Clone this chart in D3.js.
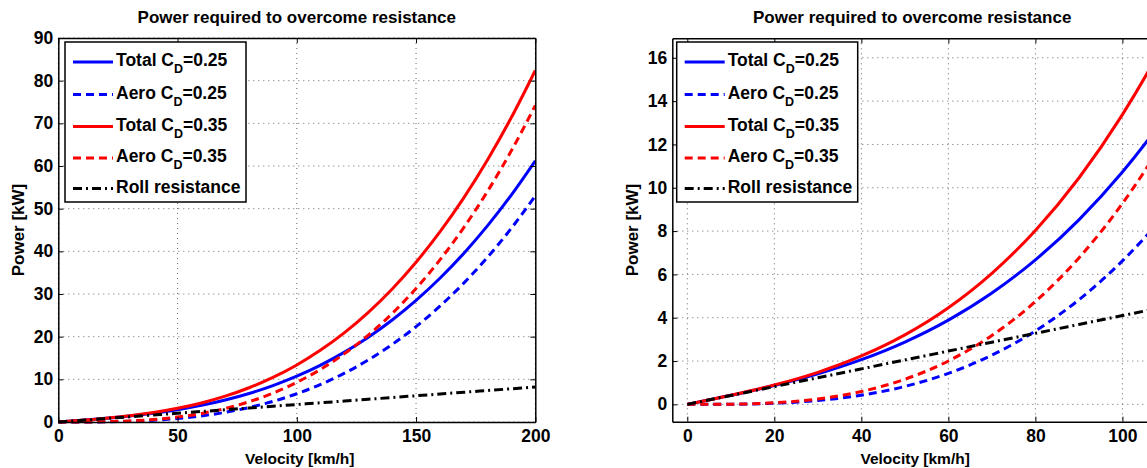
<!DOCTYPE html>
<html>
<head>
<meta charset="utf-8">
<script src="https://cdn.jsdelivr.net/npm/d3@7"></script>
<style>
  body { margin: 0; background: #fff; }
  text { font-family: "Liberation Sans", Arial, Helvetica, sans-serif; font-weight: bold; fill: #000; }
</style>
</head>
<body>
<div id="chart"></div>
<script>
// values (kW against km/h)
const velocity = [0, 10, 20, 30, 40, 50, 60, 70, 80, 90, 100, 110, 120, 130, 140, 150, 160, 170, 180, 190, 200];
const total25 = [0, 0.417, 0.873, 1.409, 2.064, 2.878, 3.891, 5.142, 6.672, 8.52, 10.725, 13.328, 16.368, 19.885, 23.919, 28.509, 33.696, 39.519, 46.017, 53.231, 61.2];
const aero25 = [0, 0.007, 0.053, 0.179, 0.424, 0.828, 1.431, 2.272, 3.392, 4.83, 6.625, 8.818, 11.448, 14.555, 18.179, 22.359, 27.136, 32.549, 38.637, 45.441, 53.0];
const total35 = [0, 0.419, 0.894, 1.48, 2.234, 3.209, 4.463, 6.051, 8.029, 10.451, 13.375, 16.855, 20.947, 25.707, 31.191, 37.453, 44.55, 52.538, 61.472, 71.407, 82.4];
const aero35 = [0, 0.009, 0.074, 0.25, 0.594, 1.159, 2.003, 3.181, 4.749, 6.761, 9.275, 12.345, 16.027, 20.377, 25.451, 31.303, 37.99, 45.568, 54.092, 63.617, 74.2];
const roll = [0, 0.41, 0.82, 1.23, 1.64, 2.05, 2.46, 2.87, 3.28, 3.69, 4.1, 4.51, 4.92, 5.33, 5.74, 6.15, 6.56, 6.97, 7.38, 7.79, 8.2];

const seriesNames = ["Total", "Aero", "Total", "Aero", "Roll resistance"];
const seriesCd = ["0.25", "0.25", "0.35", "0.35", null];
const seriesValues = [total25, aero25, total35, aero35, roll];
const seriesColors = ["#0000ff", "#0000ff", "#ff0000", "#ff0000", "#000000"];
const seriesDash = [null, "8,5", null, "8,5", "9,4,2,4"];

const leftXTicks = [0, 50, 100, 150, 200];
const leftYTicks = [0, 10, 20, 30, 40, 50, 60, 70, 80, 90];
const rightXTicks = [0, 20, 40, 60, 80, 100];
const rightYTicks = [0, 2, 4, 6, 8, 10, 12, 14, 16];

const title = "Power required to overcome resistance";
const xTitle = "Velocity [km/h]";
const yTitle = "Power [kW]";

const width = 1147, height = 468;

const svg = d3.select("#chart").append("svg")
  .attr("width", width)
  .attr("height", height);

function drawPanel(o) {
  const g = svg.append("g");
  const x = d3.scaleLinear().domain(o.xDomain).range([o.left, o.right]);
  const y = d3.scaleLinear().domain(o.yDomain).range([o.bottom, o.top]);

  // dotted grid
  g.append("g").selectAll("line").data(o.xTicks).join("line")
    .attr("x1", d => x(d)).attr("x2", d => x(d))
    .attr("y1", o.top).attr("y2", o.bottom)
    .attr("stroke", "#666").attr("stroke-width", 1).attr("stroke-dasharray", "1,4");
  g.append("g").selectAll("line").data(o.yTicks).join("line")
    .attr("x1", o.left).attr("x2", o.right)
    .attr("y1", d => y(d)).attr("y2", d => y(d))
    .attr("stroke", "#666").attr("stroke-width", 1).attr("stroke-dasharray", "1,4");

  const clipId = "clip" + o.id;
  svg.append("clipPath").attr("id", clipId).append("rect")
    .attr("x", o.left).attr("y", o.top - 2)
    .attr("width", o.right - o.left).attr("height", o.bottom - o.top + 4);

  const line = d3.line()
    .x((d, i) => x(velocity[i]))
    .y(d => y(d))
    .curve(d3.curveMonotoneX);

  g.append("g").attr("clip-path", `url(#${clipId})`)
    .selectAll("path").data(seriesValues).join("path")
    .attr("d", d => line(d))
    .attr("fill", "none")
    .attr("stroke", (d, i) => seriesColors[i])
    .attr("stroke-width", 3)
    .attr("stroke-dasharray", (d, i) => seriesDash[i]);

  // axes, ticks pointing inward on all four sides
  const bottomAxis = g.append("g").attr("transform", `translate(0,${o.bottom})`)
    .call(d3.axisBottom(x).tickValues(o.xTicks).tickSizeInner(-5).tickSizeOuter(0).tickPadding(8));
  const leftAxis = g.append("g").attr("transform", `translate(${o.left},0)`)
    .call(d3.axisLeft(y).tickValues(o.yTicks).tickSizeInner(-5).tickSizeOuter(0).tickPadding(5));
  const topAxis = g.append("g").attr("transform", `translate(0,${o.top})`)
    .call(d3.axisTop(x).tickValues(o.xTicks).tickSizeInner(-5).tickSizeOuter(0).tickFormat(""));
  const rightAxis = g.append("g").attr("transform", `translate(${o.right},0)`)
    .call(d3.axisRight(y).tickValues(o.yTicks).tickSizeInner(-5).tickSizeOuter(0).tickFormat(""));

  [bottomAxis, leftAxis, topAxis, rightAxis].forEach(a => {
    a.select(".domain").attr("stroke", "#000").attr("stroke-width", 1.5);
    a.selectAll(".tick line").attr("stroke", "#000").attr("stroke-width", 1);
    a.selectAll("text").style("font-size", "17.5px").style("font-family", null).attr("fill", "#000");
  });

  const cx = (o.left + o.right) / 2;
  g.append("text").attr("x", cx).attr("y", 23)
    .attr("text-anchor", "middle").style("font-size", "17px").text(title);
  g.append("text").attr("x", cx + 3).attr("y", 464)
    .attr("text-anchor", "middle").style("font-size", "15.5px").text(xTitle);
  g.append("text")
    .attr("transform", `translate(${o.yLabelX},${(o.top + o.bottom) / 2}) rotate(-90)`)
    .attr("text-anchor", "middle").style("font-size", "17px").text(yTitle);

  // legend
  const lg = g.append("g").attr("transform", `translate(${o.legendX},${o.legendY})`);
  lg.append("rect").attr("width", 181).attr("height", 160)
    .attr("fill", "#fff").attr("stroke", "#000").attr("stroke-width", 1.5);
  const rowY = [20, 52.5, 84.5, 116, 146.5];
  seriesNames.forEach((name, i) => {
    const row = lg.append("g").attr("transform", `translate(0,${rowY[i]})`);
    row.append("line").attr("x1", 8).attr("x2", 48).attr("y1", 0).attr("y2", 0)
      .attr("stroke", seriesColors[i]).attr("stroke-width", 3)
      .attr("stroke-dasharray", seriesDash[i]);
    const t = row.append("text").attr("x", 51).attr("y", 4).style("font-size", "17.5px");
    if (seriesCd[i]) {
      t.append("tspan").text(name + " C");
      t.append("tspan").attr("dy", 7).style("font-size", "12.5px").text("D");
      t.append("tspan").attr("dy", -7).text("=" + seriesCd[i]);
    } else {
      t.text(name);
    }
  });
}

drawPanel({
  id: "L", xDomain: [0, 200], yDomain: [0, 90],
  left: 58.3, right: 535.3, top: 38, bottom: 422,
  xTicks: leftXTicks, yTicks: leftYTicks,
  yLabelX: 24, legendX: 65, legendY: 42
});

drawPanel({
  id: "R", xDomain: [-3.45, 106.8], yDomain: [-0.8, 16.9],
  left: 672.3, right: 1152, top: 38.3, bottom: 421.7,
  xTicks: rightXTicks, yTicks: rightYTicks,
  yLabelX: 638, legendX: 676.7, legendY: 42
});
</script>
</body>
</html>
